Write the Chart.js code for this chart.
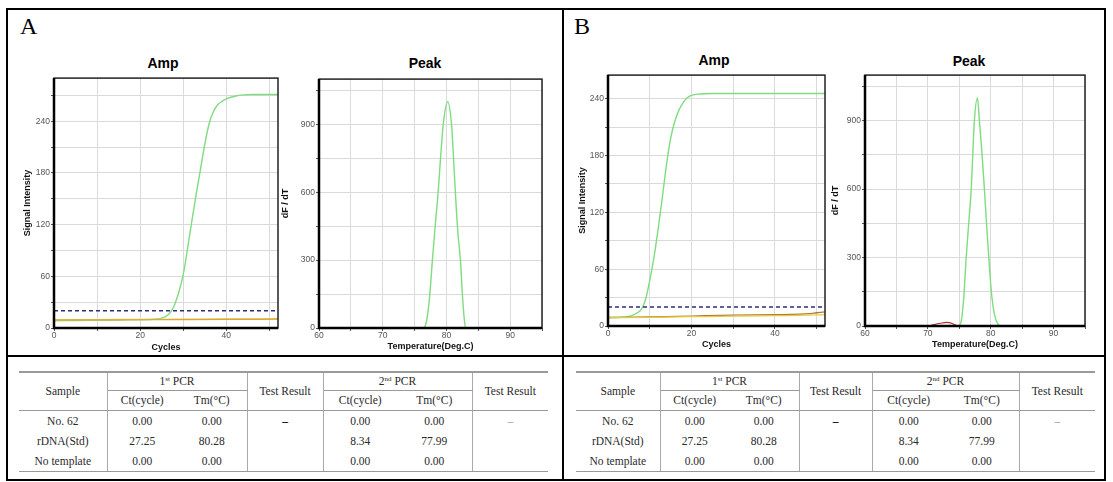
<!DOCTYPE html>
<html>
<head>
<meta charset="utf-8">
<script src="https://cdn.jsdelivr.net/npm/chart.js@4.4.1/dist/chart.umd.min.js"></script>
<style>
  body { margin: 0; background: #fff; }
  #page { position: relative; width: 1113px; height: 482px; overflow: hidden; }
  .ln { position: absolute; background: #000; }
  .letter { position: absolute; font-family: "Liberation Serif", "Times New Roman", serif; font-size: 24px; line-height: 24px; color: #000; }
  .ct { position: absolute; width: 100px; text-align: center; font-family: "Liberation Sans", Arial, sans-serif; font-weight: bold; font-size: 14px; line-height: 16px; color: #000; }
  canvas { position: absolute; }
  table { position: absolute; border-collapse: collapse; table-layout: fixed; font-family: "Liberation Serif", "Times New Roman", serif; font-size: 11.5px; color: #2a2a2a; }
  td { text-align: center; padding: 0; white-space: nowrap; }
  tr.h1 td { border-top: 2px solid #9a9a9a; }
  tr.h2 td, td.hb { border-bottom: 1.5px solid #9a9a9a; }
  td.sub { border-bottom: 1px solid #9a9a9a; }
  tr.last td { border-bottom: 1.5px solid #9a9a9a; }
  td.vr { border-right: 1px solid #aaa; }
  sup { font-size: 7px; vertical-align: 4px; line-height: 0; }
</style>
</head>
<body>
<div id="page">
  <!-- рамки панелей -->
  <div class="ln" style="left:7px;top:8px;width:1099px;height:2px"></div>
  <div class="ln" style="left:7px;top:479px;width:1099px;height:2px"></div>
  <div class="ln" style="left:6px;top:8px;width:2px;height:473px"></div>
  <div class="ln" style="left:1104px;top:8px;width:2px;height:473px"></div>
  <div class="ln" style="left:562px;top:8px;width:2px;height:473px"></div>
  <div class="ln" style="left:7px;top:355px;width:1099px;height:2px"></div>

  <div class="letter" style="left:20px;top:14px">A</div>
  <div class="letter" style="left:574px;top:14px">B</div>

  <div class="ct" style="left:113px;top:55px">Amp</div>
  <div class="ct" style="left:375px;top:55px">Peak</div>
  <div class="ct" style="left:664px;top:52px">Amp</div>
  <div class="ct" style="left:919px;top:53px">Peak</div>

  <canvas id="ampA" width="259" height="280" style="left:23px;top:72px"></canvas>
  <canvas id="peakA" width="265" height="278" style="left:281px;top:73px"></canvas>
  <canvas id="ampB" width="251" height="280" style="left:578px;top:69px"></canvas>
  <canvas id="peakB" width="258" height="280" style="left:831px;top:69px"></canvas>

  <table id="tabA" style="left:19px;top:371px;width:529px"></table>
  <table id="tabB" style="left:576px;top:371px;width:519px"></table>
</div>

<script>
// --- Amp A (кривые амплификации, 1st PCR) ---
const ampCyclesA = [0, 5, 10, 15, 20, 22, 24, 25, 26, 27, 28, 29, 30, 31, 32, 33, 34, 35, 36, 37, 38, 39, 40, 42, 44, 46, 48, 50, 52];
const ampGreenA = [8.5, 8.7, 9, 9.3, 9.6, 9.8, 10.5, 11.5, 13.5, 18, 27, 42, 62, 92, 124, 155, 184, 213, 237, 251, 259, 263, 266, 269, 270.5, 271, 271, 271, 271];
const ampBaseCyclesA = [0, 10, 20, 30, 40, 52];
const ampYellowA = [9.6, 9.8, 10, 10.2, 10.5, 10.8];
const ampOrangeA = [9.2, 9.4, 9.6, 9.8, 10, 10.2];
const thresholdA = 20;

// --- Peak A (кривая плавления) ---
const peakTempA = [60, 76.3, 76.8, 77.3, 77.8, 78.2, 78.7, 79.1, 79.5, 80.2, 80.8, 81.1, 81.4, 81.8, 82.2, 82.5, 82.8, 83.0, 95];
const peakGreenA = [0, 0, 20, 120, 300, 440, 600, 760, 900, 1000, 900, 760, 600, 420, 300, 150, 40, 0, 0];

// --- Amp B (2nd PCR) ---
const ampCyclesB = [0, 2, 4, 5, 6, 7, 8, 9, 10, 11, 12, 13, 14, 15, 16, 17, 18, 19, 20, 22, 25, 30, 40, 52];
const ampGreenB = [9, 9, 9.5, 10, 11.5, 14, 17.5, 28, 48, 72, 102, 135, 170, 198, 216, 228, 236, 241, 243.5, 245, 245.5, 245.5, 245.5, 245.5];
const ampBaseCyclesB = [0, 10, 20, 30, 40, 46, 48, 50, 52];
const ampBrownB = [9, 9.5, 10.5, 11.5, 12, 12.5, 13, 14, 15];
const ampYellowB = [8.8, 9.2, 9.8, 10.4, 10.9, 11.2, 11.4, 11.7, 12];
const thresholdB = 20;

// --- Peak B ---
const peakTempB = [60, 74.8, 75.3, 75.7, 76.1, 76.5, 76.9, 77.4, 77.9, 78.2, 78.6, 79.0, 79.4, 79.7, 80.1, 80.6, 81.1, 81.7, 95];
const peakGreenB = [0, 0, 20, 120, 300, 450, 600, 900, 1000, 900, 760, 600, 420, 300, 150, 50, 10, 0, 0];
const peakTempRedB = [70.2, 71, 72, 73, 73.6, 74.2, 74.8];
const peakRedB = [0, 6, 12, 16, 14, 6, 0];

// --- Таблица ---
const samples = ["No. 62", "rDNA(Std)", "No template"];
const ct1 = ["0.00", "27.25", "0.00"];
const tm1 = ["0.00", "80.28", "0.00"];
const ct2 = ["0.00", "8.34", "0.00"];
const tm2 = ["0.00", "77.99", "0.00"];
const result1 = ["–", "", ""];
const result2 = ["–", "", ""];

const GREEN = "#7fdc7f";
const NAVY = "#2c2c7c";
const FONT = "'Liberation Sans', Arial, sans-serif";

function pts(xs, ys) {
  return xs.map((x, i) => ({ x, y: ys[i] }));
}

function line(data, color, width, dash) {
  return {
    data,
    borderColor: color,
    borderWidth: width,
    borderDash: dash || [],
    pointRadius: 0,
    fill: false,
    cubicInterpolationMode: "monotone",
  };
}

// рамка вокруг области графика
const framePlugin = {
  id: "frame",
  afterDatasetsDraw(chart) {
    const { ctx, chartArea: a } = chart;
    ctx.save();
    ctx.strokeStyle = "#222";
    ctx.lineWidth = 1.5;
    ctx.strokeRect(a.left, a.top, a.right - a.left, a.bottom - a.top);
    ctx.strokeStyle = "#000";
    ctx.lineWidth = 2.5;
    ctx.beginPath();
    ctx.moveTo(a.left, a.top);
    ctx.lineTo(a.left, a.bottom);
    ctx.lineTo(a.right, a.bottom);
    ctx.stroke();
    ctx.restore();
  },
};

function axis(min, max, step, labelEvery, title, size, horizontal) {
  return {
    type: "linear",
    min,
    max,
    afterFit: (s) => {
      if (horizontal) s.height = size;
      else s.width = size;
    },
    grid: { color: "#dadada", tickLength: 3, tickColor: "#555" },
    border: { display: false },
    ticks: {
      stepSize: step,
      includeBounds: false,
      autoSkip: false,
      maxRotation: 0,
      padding: horizontal ? 0 : 1,
      color: "#555",
      font: { family: FONT, size: 8.5 },
      callback: (v) => (Math.round(v) % labelEvery === 0 ? String(v) : ""),
    },
    title: {
      display: true,
      text: title,
      color: "#111",
      padding: 0,
      font: { family: FONT, weight: "bold", size: 9, lineHeight: 1 },
    },
  };
}

function makeChart(id, datasets, xCfg, yCfg) {
  return new Chart(document.getElementById(id), {
    type: "line",
    data: { datasets },
    options: {
      responsive: false,
      animation: false,
      devicePixelRatio: 1,
      layout: { padding: { top: 4, right: 4, left: 0, bottom: 0 } },
      plugins: { legend: { display: false }, tooltip: { enabled: false } },
      scales: { x: xCfg, y: yCfg },
    },
    plugins: [framePlugin],
  });
}

makeChart(
  "ampA",
  [
    line(pts(ampBaseCyclesA, ampOrangeA), "#d9a441", 1.2),
    line(pts(ampBaseCyclesA, ampYellowA), "#e6cc3a", 1.3),
    line(pts([0, 52], [thresholdA, thresholdA]), NAVY, 1.5, [4, 3]),
    line(pts(ampCyclesA, ampGreenA), GREEN, 1.4),
  ],
  axis(0, 52, 10, 20, "Cycles", 24, true),
  axis(0, 290, 30, 60, "Signal Intensity", 31, false)
);

makeChart(
  "peakA",
  [line(pts(peakTempA, peakGreenA), GREEN, 1.4)],
  axis(60, 95, 5, 10, "Temperature(Deg.C)", 23, true),
  axis(0, 1100, 150, 300, "dF / dT", 38, false)
);

makeChart(
  "ampB",
  [
    line(pts(ampBaseCyclesB, ampYellowB), "#e6cc3a", 1.2),
    line(pts(ampBaseCyclesB, ampBrownB), "#b07a3a", 1.3),
    line(pts([0, 52], [thresholdB, thresholdB]), NAVY, 1.5, [4, 3]),
    line(pts(ampCyclesB, ampGreenB), GREEN, 1.4),
  ],
  axis(0, 52, 10, 20, "Cycles", 23, true),
  axis(0, 265, 30, 60, "Signal Intensity", 30, false)
);

makeChart(
  "peakB",
  [
    line(pts(peakTempRedB, peakRedB), "#a83232", 1.2),
    line(pts(peakTempB, peakGreenB), GREEN, 1.4),
  ],
  axis(60, 95, 5, 10, "Temperature(Deg.C)", 23, true),
  axis(0, 1100, 150, 300, "dF / dT", 34, false)
);

// Таблицы результатов
function buildTable(id, widths) {
  const t = document.getElementById(id);
  let html = "<colgroup>" + widths.map((w) => `<col style="width:${w}px">`).join("") + "</colgroup>";
  html +=
    '<tr class="h1" style="height:18px">' +
    '<td rowspan="2" class="vr hb">Sample</td>' +
    '<td colspan="2" class="vr sub">1<sup>st</sup> PCR</td>' +
    '<td rowspan="2" class="vr hb">Test Result</td>' +
    '<td colspan="2" class="vr sub">2<sup>nd</sup> PCR</td>' +
    '<td rowspan="2" class="hb">Test Result</td></tr>';
  html +=
    '<tr class="h2" style="height:20px">' +
    "<td>Ct(cycle)</td><td class=\"vr\">Tm(°C)</td>" +
    "<td>Ct(cycle)</td><td class=\"vr\">Tm(°C)</td></tr>";
  samples.forEach((s, i) => {
    const cls = i === samples.length - 1 ? ' class="last"' : "";
    html +=
      `<tr${cls} style="height:${i === 2 ? 20 : 20.5}px">` +
      `<td class="vr">${s}</td><td>${ct1[i]}</td><td class="vr">${tm1[i]}</td>` +
      `<td class="vr" style="font-weight:bold;color:#111">${result1[i]}</td>` +
      `<td>${ct2[i]}</td><td class="vr">${tm2[i]}</td>` +
      `<td style="color:#999">${result2[i]}</td></tr>`;
  });
  t.innerHTML = html;
}

buildTable("tabA", [88, 70, 70, 76, 74, 75, 76]);
buildTable("tabB", [84, 69, 70, 73, 73, 74, 76]);
</script>
</body>
</html>
